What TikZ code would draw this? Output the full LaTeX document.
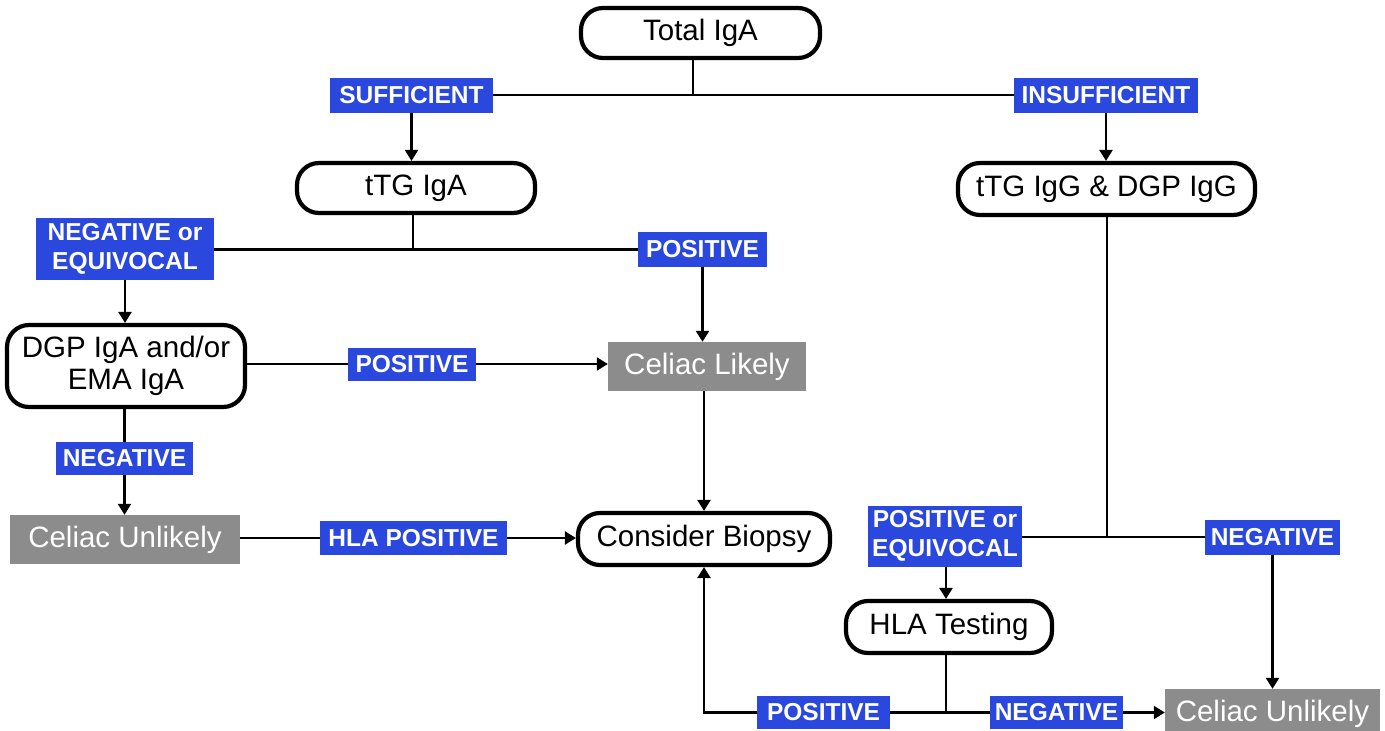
\documentclass[tikz,border=0pt]{standalone}
\usepackage{fontspec}
\setmainfont{Liberation Sans}
\usetikzlibrary{arrows.meta}
\definecolor{tagblue}{RGB}{42,71,222}
\definecolor{resgray}{RGB}{140,140,140}
\tikzset{
  test/.style={draw, line width=4.2pt, rounded corners=22pt, fill=white, inner sep=0pt,
    align=center, font=\fontsize{29.5}{32}\selectfont},
  result/.style={fill=resgray, text=white, inner sep=0pt, align=center,
    font=\fontsize{29.5}{32}\selectfont},
  tag/.style={fill=tagblue, text=white, inner sep=0pt, align=center,
    font=\bfseries\fontsize{24.5}{29}\selectfont},
  line/.style={line width=2.4pt},
  arr/.style={line width=2.4pt, -{Triangle[length=11pt,width=13pt]}}
}
\begin{document}
\begin{tikzpicture}[x=1pt, y=-1pt]
  \useasboundingbox (0,0) rectangle (1385,731) ;
  \node[test, minimum width=239, minimum height=50] (total) at (700.5, 33) {Total IgA} ;
  \node[tag, minimum width=163, minimum height=35] (suff) at (411.5, 95) {SUFFICIENT} ;
  \node[tag, minimum width=184, minimum height=35] (insuff) at (1106, 95) {INSUFFICIENT} ;
  \node[test, minimum width=238, minimum height=50] (ttga) at (416, 188) {tTG IgA} ;
  \node[test, minimum width=297, minimum height=52] (ttgg) at (1106.5, 189) {tTG IgG \& DGP IgG} ;
  \node[tag, minimum width=178, minimum height=62] (negeq) at (125, 249) {NEGATIVE or\\EQUIVOCAL} ;
  \node[tag, minimum width=129, minimum height=35] (pos1) at (702.5, 249.5) {POSITIVE} ;
  \node[test, minimum width=238, minimum height=82] (dgp) at (126, 366) {DGP IgA and/or\\EMA IgA} ;
  \node[tag, minimum width=128, minimum height=33] (pos2) at (412, 364) {POSITIVE} ;
  \node[result, minimum width=198, minimum height=49] (likely) at (707, 366.5) {Celiac Likely} ;
  \node[tag, minimum width=137, minimum height=33] (neg1) at (124.5, 458.5) {NEGATIVE} ;
  \node[result, minimum width=230, minimum height=49] (unl1) at (125, 539.5) {Celiac Unlikely} ;
  \node[tag, minimum width=187, minimum height=34] (hlapos) at (413.5, 538) {HLA POSITIVE} ;
  \node[test, minimum width=252, minimum height=52] (biopsy) at (704, 539) {Consider Biopsy} ;
  \node[tag, minimum width=154, minimum height=61] (poseq) at (945, 536) {POSITIVE or\\EQUIVOCAL} ;
  \node[tag, minimum width=135, minimum height=35] (neg2) at (1272.5, 537.5) {NEGATIVE} ;
  \node[test, minimum width=206, minimum height=52] (hla) at (949, 627) {HLA Testing} ;
  \node[tag, minimum width=133, minimum height=33] (pos3) at (823.5, 712.5) {POSITIVE} ;
  \node[tag, minimum width=133, minimum height=33] (neg3) at (1056.5, 712.5) {NEGATIVE} ;
  \node[result, minimum width=215, minimum height=49] (unl2) at (1272.5, 713.5) {Celiac Unlikely} ;
  \coordinate (j1) at (693, 95) ;
  \coordinate (j2) at (413, 249.5) ;
  \coordinate (j3) at (1107, 537) ;
  \coordinate (j4) at (946, 712.5) ;
  \draw[line] (j1 |- total.south) -- (j1) ;
  \draw[line] (suff.east) -- (insuff.west) ;
  \draw[arr] (suff.south) -- (suff.south |- ttga.north) ;
  \draw[arr] (insuff.south) -- (insuff.south |- ttgg.north) ;
  \draw[line] (j2 |- ttga.south) -- (j2) ;
  \draw[line] (negeq.east |- j2) -- (pos1.west) ;
  \draw[arr] (negeq.south) -- (negeq.south |- dgp.north) ;
  \draw[arr] (pos1.south) -- (pos1.south |- likely.north) ;
  \draw[line] (dgp.east |- pos2) -- (pos2.west) ;
  \draw[arr] (pos2.east) -- (likely.west |- pos2) ;
  \draw[line] (dgp.south -| neg1) -- (neg1.north) ;
  \draw[arr] (neg1.south) -- (neg1.south |- unl1.north) ;
  \draw[line] (unl1.east |- hlapos) -- (hlapos.west) ;
  \draw[arr] (hlapos.east) -- (biopsy.west |- hlapos) ;
  \draw[arr] (likely.south -| biopsy) -- (biopsy.north) ;
  \draw[line] (j3 |- ttgg.south) -- (j3) ;
  \draw[line] (poseq.east |- j3) -- (neg2.west |- j3) ;
  \draw[arr] (neg2.south) -- (neg2.south |- unl2.north) ;
  \draw[arr] (j4 |- poseq.south) -- (j4 |- hla.north) ;
  \draw[line] (j4 |- hla.south) -- (j4) ;
  \draw[line] (pos3.east) -- (neg3.west) ;
  \draw[arr] (neg3.east) -- (unl2.west |- neg3) ;
  \draw[arr] (pos3.west) -| (biopsy.south) ;
\end{tikzpicture}
\end{document}
